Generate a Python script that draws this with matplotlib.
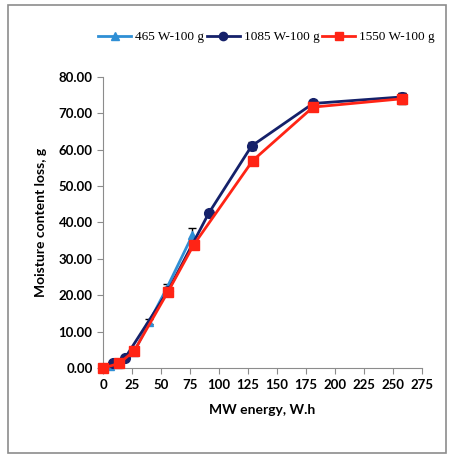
import matplotlib
matplotlib.use("Agg")
import matplotlib.pyplot as plt
from matplotlib.patches import Rectangle

# Energy (W.h) and moisture loss (g)
x_465 = [0, 6, 13, 27, 40, 55, 77]
y_465 = [0, 0.5, 1.2, 4.5, 12.8, 22.0, 36.5]
e_465 = [0.3, 0.3, 0.4, 0.5, 0.8, 1.0, 2.0]

x_1085 = [0, 9, 19, 56, 91, 128, 181, 258]
y_1085 = [0, 1.4, 2.8, 21.2, 42.5, 61.0, 72.7, 74.5]
e_1085 = [0.3, 0.4, 0.5, 1.0, 0.8, 1.0, 1.0, 1.2]

x_1550 = [0, 14, 27, 56, 78, 129, 181, 258]
y_1550 = [0, 1.3, 4.8, 21.0, 33.8, 57.0, 71.7, 74.0]
e_1550 = [0.3, 0.3, 0.4, 0.6, 0.8, 0.6, 0.6, 1.5]

labels = ["465 W-100 g", "1085 W-100 g", "1550 W-100 g"]
xticks = list(range(0, 276, 25))
yticks = list(range(0, 81, 10))

fig = plt.figure(figsize=(4.5, 4.55), dpi=100)
fig.patches.append(Rectangle((0.018, 0.005), 0.972, 0.985, transform=fig.transFigure,
                             fill=False, edgecolor="#8c8c8c", linewidth=1.2))
ax = fig.add_axes([0.229, 0.191, 0.709, 0.640])

series = [
    (x_465, y_465, e_465, "#2F8FD5", "^", 6),
    (x_1085, y_1085, e_1085, "#15216A", "o", 7),
    (x_1550, y_1550, e_1550, "#FF2415", "s", 7),
]
for (xs, ys, es, c, m, ms), lab in zip(series, labels):
    ax.errorbar(xs, ys, yerr=es, fmt="none", ecolor="black", elinewidth=1, capsize=3, zorder=2)
    ax.plot(xs, ys, color=c, marker=m, markersize=ms, linewidth=2, label=lab,
            zorder=3, clip_on=False)

ax.set_xlim(0, 275)
ax.set_ylim(0, 80)
ax.set_xticks(xticks)
ax.set_yticks(yticks)
ax.set_yticklabels([f"{v:.2f}" for v in yticks])
for s in ["top", "right"]:
    ax.spines[s].set_visible(False)
for s in ["left", "bottom"]:
    ax.spines[s].set_color("#8c8c8c")
ax.tick_params(direction="out", length=4, color="#8c8c8c", labelsize=9.5)
for t in ax.get_xticklabels() + ax.get_yticklabels():
    t.set_fontfamily("Lato")
    t.set_fontweight("bold")

ax.set_xlabel("MW energy, W.h", fontsize=10, fontweight="bold", family="Lato", labelpad=10)
ax.set_ylabel("Moisture content loss, g", fontsize=10, fontweight="bold", family="Lato", labelpad=8)

fig.legend(loc="center", bbox_to_anchor=(0.592, 0.918), ncol=3, frameon=False,
           prop={"family": "Liberation Serif", "size": 9.5}, handlelength=2.5,
           columnspacing=0.2, handletextpad=0.3, markerscale=0.85)

fig.savefig("out.png", dpi=100)
